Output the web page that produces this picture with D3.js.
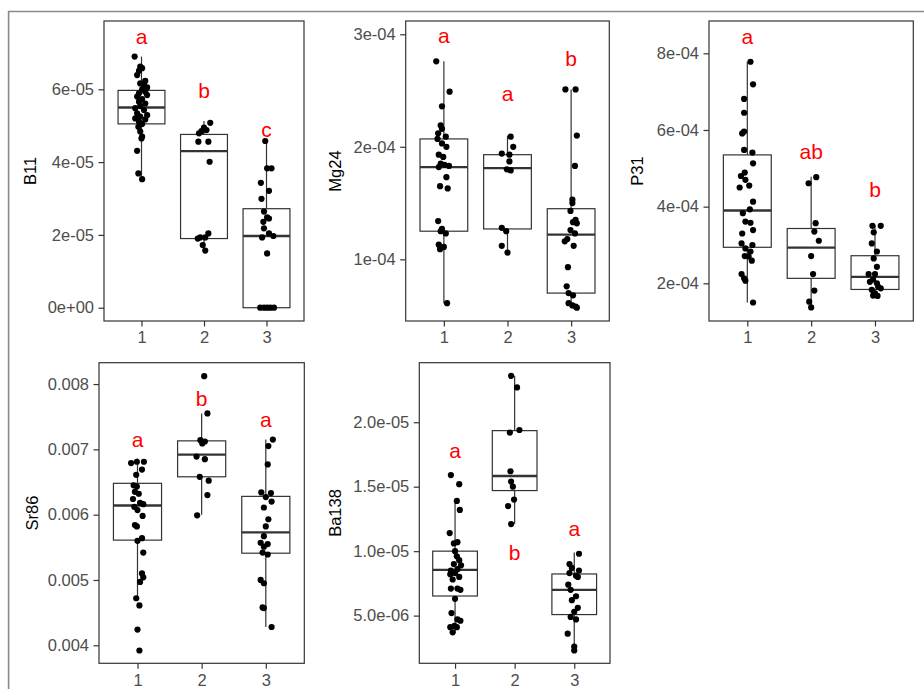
<!DOCTYPE html>
<html>
<head>
<meta charset="utf-8">
<script src="https://cdn.jsdelivr.net/npm/d3@7"></script>
<style>
  body { margin: 0; background: #fff; }
  svg { display: block; font-family: "Liberation Sans", Arial, sans-serif; }
</style>
</head>
<body>
<svg id="chart"></svg>
<script>
// boxplots + jitter, 5 elements, groups 1..3
var groups = ["1", "2", "3"];

// B11 (values in 1e-5)
var b11Unit = 1e-5;
var b11Values = [
  [6.90,6.62,6.51,6.58,6.39,6.23,6.16,6.12,6.05,6.00,5.93,5.89,5.84,5.80,5.73,5.66,5.61,5.54,5.48,5.43,5.34,5.29,5.25,5.20,5.17,5.11,5.05,4.97,4.84,4.70,4.65,4.31,3.69,3.53],
  [5.08,4.95,4.85,4.88,4.79,4.56,4.56,4.01,1.93,2.04,1.93,1.72,1.57,1.90],
  [4.58,3.83,3.83,3.43,3.21,2.99,2.64,2.48,2.36,2.45,2.18,2.04,1.93,1.97,1.49,0,0,0,0,0]
];
var b11Jitter = [
  [-0.11,-0.02,-0.04,0.01,-0.07,0.06,-0.02,0.04,0.09,0.01,0.06,-0.04,0.09,-0.07,0.01,-0.04,0.06,-0.02,-0.10,0.04,-0.07,0.09,-0.02,-0.10,0.06,-0.04,0.01,-0.05,-0.02,0.01,0.00,-0.07,-0.05,0.01],
  [0.10,0.00,-0.04,0.04,-0.08,-0.09,0.07,0.09,-0.06,0.07,0.02,-0.02,0.02,-0.10],
  [-0.02,0.01,0.08,-0.09,0.04,-0.08,-0.04,0.01,-0.05,0.04,-0.04,0.04,-0.07,0.11,0.01,-0.10,-0.04,0.01,0.06,0.12]
];
var b11Box = [[3.54,5.05,5.50,5.97,6.90],[1.57,1.90,4.30,4.76,5.13],[0,0,1.97,2.72,4.58]];
var b11Letters = ["a", "b", "c"];
var b11LetterY = [7.41, 5.93, 4.85];
var b11Domain = [-0.365, 7.876];
var b11Ticks = [0, 2, 4, 6];
var b11TickLabels = ["0e+00", "2e-05", "4e-05", "6e-05"];

// Mg24 (values in 1e-4)
var mg24Unit = 1e-4;
var mg24Values = [
  [2.76,2.49,2.36,2.19,2.16,2.12,2.09,2.07,2.03,2.00,1.93,1.91,1.85,1.84,1.83,1.82,1.73,1.65,1.63,1.34,1.27,1.23,1.25,1.13,1.11,1.09,0.61],
  [2.09,2.00,1.94,1.93,1.87,1.80,1.79,1.28,1.25,1.12,1.06],
  [2.51,2.51,2.10,1.83,1.53,1.50,1.43,1.35,1.33,1.32,1.26,1.23,1.18,1.16,1.12,0.93,0.76,0.70,0.68,0.61,0.59,0.58,0.57]
];
var mg24Jitter = [
  [-0.12,0.09,-0.03,-0.05,-0.03,-0.09,0.03,-0.10,-0.03,0.04,-0.08,-0.01,-0.05,0.01,0.08,-0.08,0.04,-0.06,0.06,-0.09,-0.03,0.03,-0.05,-0.08,0.00,-0.06,0.05],
  [0.05,0.09,-0.09,0.03,0.03,-0.01,0.05,-0.09,-0.02,-0.09,0.00],
  [-0.09,0.07,0.09,0.06,0.02,0.02,-0.01,0.07,0.03,0.09,-0.01,0.06,-0.06,-0.10,0.04,-0.05,-0.07,-0.04,0.03,-0.04,0.02,0.07,0.09]
];
var mg24Box = [[0.61,1.25,1.82,2.07,2.76],[1.06,1.27,1.81,1.93,2.10],[0.57,0.70,1.22,1.45,2.51]];
var mg24Letters = ["a", "a", "b"];
var mg24LetterY = [2.976, 2.46, 2.77];
var mg24Domain = [0.452, 3.118];
var mg24Ticks = [1, 2, 3];
var mg24TickLabels = ["1e-04", "2e-04", "3e-04"];

// P31 (values in 1e-4)
var p31Unit = 1e-4;
var p31Values = [
  [7.78,7.19,6.81,6.45,5.91,5.96,5.48,5.41,5.13,4.89,4.80,4.70,4.50,4.55,4.13,3.93,3.83,3.61,3.58,3.39,3.30,3.04,3.00,2.91,2.83,2.71,2.70,2.59,2.24,2.13,2.07,1.50],
  [4.77,4.61,3.57,3.35,3.11,2.71,2.24,1.81,1.52,1.37],
  [3.50,3.50,3.33,3.04,2.83,2.65,2.43,2.24,2.24,2.10,2.04,2.00,1.91,1.87,1.83,1.74,1.68,1.67]
];
var p31Jitter = [
  [0.05,0.09,-0.05,-0.05,-0.08,-0.05,-0.05,0.08,0.09,-0.04,-0.10,-0.03,-0.12,0.03,0.09,0.04,-0.07,-0.03,0.05,0.09,-0.08,-0.09,0.08,-0.03,0.05,-0.04,0.02,0.07,-0.09,-0.05,-0.03,0.09],
  [0.08,-0.04,0.07,0.05,0.12,0.00,0.03,0.05,-0.03,0.00],
  [-0.04,0.09,-0.02,-0.05,0.03,-0.02,0.03,-0.10,0.00,-0.03,-0.08,0.03,0.05,0.09,-0.05,0.00,-0.03,0.04]
];
var p31Box = [[1.50,2.94,3.90,5.35,7.78],[1.37,2.13,2.93,3.43,4.78],[1.65,1.84,2.17,2.72,3.51]];
var p31Letters = ["a", "ab", "b"];
var p31LetterY = [8.42, 5.41, 4.42];
var p31Domain = [1.017, 8.843];
var p31Ticks = [2, 4, 6, 8];
var p31TickLabels = ["2e-04", "4e-04", "6e-04", "8e-04"];

// Sr86 (values in 1e-3)
var sr86Unit = 1e-3;
var sr86Values = [
  [6.79,6.81,6.81,6.69,6.61,6.45,6.43,6.35,6.32,6.24,6.18,6.16,6.12,6.07,5.98,5.84,5.82,5.64,5.60,5.42,5.10,5.04,4.97,4.72,4.61,4.24,3.92],
  [8.12,7.55,7.14,7.12,7.09,6.89,6.85,6.58,6.52,6.30,5.99],
  [7.15,7.05,6.77,6.34,6.33,6.27,6.20,6.11,5.93,5.82,5.67,5.57,5.55,5.51,5.42,5.39,5.00,4.95,4.58,4.57,4.28]
];
var sr86Jitter = [
  [-0.10,-0.01,0.10,0.07,-0.02,-0.06,-0.01,-0.04,0.02,-0.07,0.04,0.09,-0.05,0.00,0.08,-0.04,-0.01,0.07,0.00,0.09,0.07,0.09,0.04,-0.02,0.03,0.00,0.03],
  [0.04,0.09,-0.02,0.05,0.01,-0.08,0.05,-0.03,0.11,0.09,-0.07],
  [0.11,0.04,0.03,-0.07,0.08,0.00,0.09,-0.03,0.04,0.00,-0.03,-0.08,0.03,-0.03,-0.05,0.03,-0.08,-0.03,-0.05,-0.03,0.09]
];
var sr86Box = [[4.72,5.61,6.14,6.48,6.86],[6.00,6.58,6.92,7.13,7.55],[4.28,5.41,5.73,6.28,7.15]];
var sr86Letters = ["a", "b", "a"];
var sr86LetterY = [7.14, 7.755, 7.44];
var sr86Domain = [3.724, 8.327];
var sr86Ticks = [4, 5, 6, 7, 8];
var sr86TickLabels = ["0.004", "0.005", "0.006", "0.007", "0.008"];

// Ba138 (values in 1e-5)
var ba138Unit = 1e-5;
var ba138Values = [
  [1.59,1.52,1.39,1.32,1.14,1.07,1.06,1.00,0.96,0.93,0.90,0.89,0.86,0.85,0.83,0.82,0.80,0.78,0.71,0.71,0.70,0.63,0.52,0.47,0.46,0.42,0.41,0.41,0.37],
  [2.36,2.27,1.92,1.94,1.62,1.54,1.50,1.40,1.35,1.21],
  [0.98,0.90,0.87,0.85,0.83,0.81,0.80,0.74,0.70,0.65,0.62,0.56,0.53,0.49,0.47,0.36,0.26,0.23]
];
var ba138Jitter = [
  [-0.07,0.07,0.03,0.08,-0.09,0.04,-0.02,0.00,0.03,0.07,-0.02,0.10,0.04,-0.07,0.00,-0.08,0.07,-0.04,0.04,-0.07,0.09,0.00,-0.06,0.04,0.09,-0.01,-0.08,0.03,-0.04],
  [-0.06,0.04,-0.08,0.08,-0.07,-0.06,-0.03,-0.01,-0.11,-0.06],
  [0.08,-0.08,-0.04,0.08,-0.08,0.03,0.06,-0.10,-0.06,0.03,-0.04,0.06,0.00,-0.06,0.03,-0.11,0.00,0.00]
];
var ba138Box = [[0.368,0.652,0.854,1.00,1.40],[1.21,1.47,1.583,1.935,2.36],[0.221,0.508,0.699,0.823,0.989]];
var ba138Letters = ["a", "b", "a"];
var ba138LetterY = [1.772, 0.983, 1.169];
var ba138Domain = [0.130, 2.462];
var ba138Ticks = [0.5, 1.0, 1.5, 2.0];
var ba138TickLabels = ["5.0e-06", "1.0e-05", "1.5e-05", "2.0e-05"];

var width = 924;
var height = 689;

var svg = d3.select("svg#chart")
    .attr("width", width)
    .attr("height", height);

// outer frame of the screenshot
svg.append("line").attr("x1", 8).attr("x2", width).attr("y1", 11.5).attr("y2", 11.5)
    .attr("stroke", "#8a8a8a").attr("stroke-width", 1.6);
svg.append("line").attr("x1", 8.6).attr("x2", 8.6).attr("y1", 11).attr("y2", height)
    .attr("stroke", "#8a8a8a").attr("stroke-width", 1.6);

var panels = [
  { title: "B11", unit: b11Unit, values: b11Values, jitter: b11Jitter, box: b11Box, letters: b11Letters, letterY: b11LetterY,
    domain: b11Domain, ticks: b11Ticks, tickLabels: b11TickLabels, x: 104, y: 21, w: 200, h: 300, titleX: 30 },
  { title: "Mg24", unit: mg24Unit, values: mg24Values, jitter: mg24Jitter, box: mg24Box, letters: mg24Letters, letterY: mg24LetterY,
    domain: mg24Domain, ticks: mg24Ticks, tickLabels: mg24TickLabels, x: 405.7, y: 21, w: 203.6, h: 300, titleX: 335 },
  { title: "P31", unit: p31Unit, values: p31Values, jitter: p31Jitter, box: p31Box, letters: p31Letters, letterY: p31LetterY,
    domain: p31Domain, ticks: p31Ticks, tickLabels: p31TickLabels, x: 709, y: 21, w: 204.3, h: 300, titleX: 637 },
  { title: "Sr86", unit: sr86Unit, values: sr86Values, jitter: sr86Jitter, box: sr86Box, letters: sr86Letters, letterY: sr86LetterY,
    domain: sr86Domain, ticks: sr86Ticks, tickLabels: sr86TickLabels, x: 99, y: 362.7, w: 205.3, h: 300.6, titleX: 32 },
  { title: "Ba138", unit: ba138Unit, values: ba138Values, jitter: ba138Jitter, box: ba138Box, letters: ba138Letters, letterY: ba138LetterY,
    domain: ba138Domain, ticks: ba138Ticks, tickLabels: ba138TickLabels, x: 419.3, y: 362.7, w: 190.7, h: 300.6, titleX: 335 }
];

panels.forEach(drawPanel);

function drawPanel(p) {
    var u = p.unit;
    var g = svg.append("g");

    var x = d3.scalePoint()
        .domain(groups)
        .range([p.x, p.x + p.w])
        .padding(0.6);
    var step = x.step();

    var y = d3.scaleLinear()
        .domain([p.domain[0] * u, p.domain[1] * u])
        .range([p.y + p.h, p.y]);

    // boxes
    var boxW = step * 0.75;
    var boxes = g.selectAll("g.box")
        .data(p.box)
        .enter()
        .append("g")
        .attr("class", "box");

    boxes.append("line")
        .attr("x1", function(d, i) { return x(groups[i]) })
        .attr("x2", function(d, i) { return x(groups[i]) })
        .attr("y1", function(d) { return y(d[3] * u) })
        .attr("y2", function(d) { return y(d[4] * u) })
        .attr("stroke", "#333").attr("stroke-width", 1.2);
    boxes.append("line")
        .attr("x1", function(d, i) { return x(groups[i]) })
        .attr("x2", function(d, i) { return x(groups[i]) })
        .attr("y1", function(d) { return y(d[0] * u) })
        .attr("y2", function(d) { return y(d[1] * u) })
        .attr("stroke", "#333").attr("stroke-width", 1.2);
    boxes.append("rect")
        .attr("x", function(d, i) { return x(groups[i]) - boxW / 2 })
        .attr("width", boxW)
        .attr("y", function(d) { return y(d[3] * u) })
        .attr("height", function(d) { return y(d[1] * u) - y(d[3] * u) })
        .attr("fill", "#fff")
        .attr("stroke", "#333").attr("stroke-width", 1.2);
    boxes.append("line")
        .attr("x1", function(d, i) { return x(groups[i]) - boxW / 2 })
        .attr("x2", function(d, i) { return x(groups[i]) + boxW / 2 })
        .attr("y1", function(d) { return y(d[2] * u) })
        .attr("y2", function(d) { return y(d[2] * u) })
        .attr("stroke", "#333").attr("stroke-width", 2.3);

    // jittered points
    var pts = [];
    p.values.forEach(function(vals, gi) {
        vals.forEach(function(v, j) {
            pts.push({ g: groups[gi], v: v * u, dx: p.jitter[gi][j] });
        });
    });
    g.selectAll("circle.point")
        .data(pts)
        .enter()
        .append("circle")
        .attr("class", "point")
        .attr("cx", function(d) { return x(d.g) + d.dx * step })
        .attr("cy", function(d) { return y(d.v) })
        .attr("r", 3.1)
        .attr("fill", "#000");

    // significance letters
    g.selectAll("text.letter")
        .data(p.letters)
        .enter()
        .append("text")
        .attr("class", "letter")
        .attr("x", function(d, i) { return x(groups[i]) })
        .attr("y", function(d, i) { return y(p.letterY[i] * u) })
        .attr("dy", "0.3em")
        .attr("text-anchor", "middle")
        .attr("fill", "#ff0000")
        .style("font-size", "21px")
        .text(function(d) { return d });

    // panel border
    g.append("rect")
        .attr("x", p.x).attr("y", p.y)
        .attr("width", p.w).attr("height", p.h)
        .attr("fill", "none")
        .attr("stroke", "#333").attr("stroke-width", 1.2);

    // axes
    var yAxis = d3.axisLeft(y)
        .tickValues(p.ticks.map(function(t) { return t * u }))
        .tickFormat(function(d, i) { return p.tickLabels[i] })
        .tickSize(5.5)
        .tickPadding(4.5);
    var ya = g.append("g")
        .attr("transform", "translate(" + p.x + ",0)")
        .call(yAxis);

    var xAxis = d3.axisBottom(x).tickSize(5.5).tickPadding(5);
    var xa = g.append("g")
        .attr("transform", "translate(0," + (p.y + p.h) + ")")
        .call(xAxis);

    [ya, xa].forEach(function(a) {
        a.select(".domain").remove();
        a.selectAll(".tick line").attr("stroke", "#333").attr("stroke-width", 1.2);
        a.selectAll(".tick text")
            .attr("fill", "#4d4d4d")
            .style("font-size", "16.5px")
            .style("font-family", "'Liberation Sans', Arial, sans-serif");
    });

    // y title
    g.append("text")
        .attr("transform", "translate(" + p.titleX + "," + (p.y + p.h / 2) + ") rotate(-90)")
        .attr("dy", "0.35em")
        .attr("text-anchor", "middle")
        .attr("fill", "#000")
        .style("font-size", "16.5px")
        .text(p.title);
}
</script>
</body>
</html>
